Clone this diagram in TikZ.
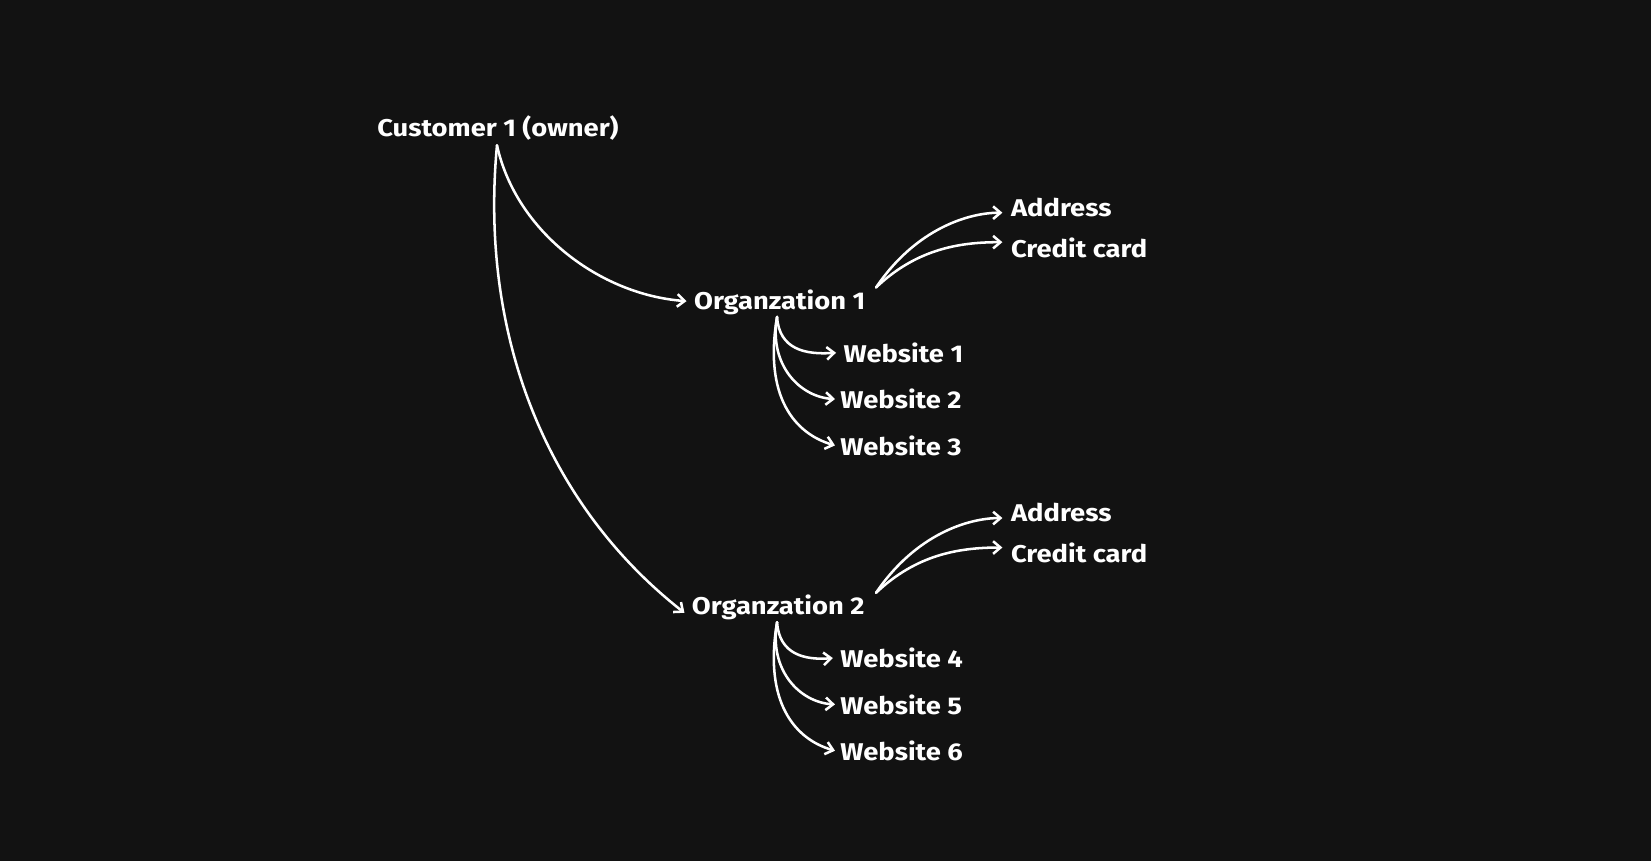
\documentclass[tikz,border=0pt]{standalone}
\usepackage{fontspec}
\setmainfont{Fira Sans}[FakeStretch=1.13]
\usetikzlibrary{arrows.meta}
\begin{document}
\begin{tikzpicture}[x=1pt,y=-1pt,
  lbl/.style={text=white,font=\fontsize{23}{26}\selectfont\bfseries,inner sep=1pt},
  con/.style={draw=white,line width=2.4pt,line cap=round,-{Straight Barb[length=7pt,width=12pt]}}]
\fill[fill={rgb,255:red,18;green,18;blue,18}] (0,0) rectangle (1568,818);
\useasboundingbox (0,0) rectangle (1568,818);
\node[lbl] (cust) at (473,122) {Customer 1 (owner)};
\node[lbl,anchor=west] (o1) at (658,287) {Organzation 1};
\node[lbl,anchor=west] (o2) at (656,577) {Organzation 2};
\node[lbl,anchor=west] (w1) at (800,335) {Website 1};
\node[lbl,anchor=west] (w2) at (797,379) {Website 2};
\node[lbl,anchor=west] (w3) at (797,423) {Website 3};
\node[lbl,anchor=west] (w4) at (797,625) {Website 4};
\node[lbl,anchor=west] (w5) at (797,669) {Website 5};
\node[lbl,anchor=west] (w6) at (797,713) {Website 6};
\node[lbl,anchor=west] (a1) at (959,197) {Address};
\node[lbl,anchor=west] (c1) at (959,235) {Credit card};
\node[lbl,anchor=west] (a2) at (959,487) {Address};
\node[lbl,anchor=west] (c2) at (959,525) {Credit card};
\coordinate (cs) at (472,138);
\draw[con] (cs) .. controls (490,220) and (570,280) .. ([xshift=-6pt,yshift=1pt]o1.west);
\draw[con] (cs) .. controls (455,320) and (520,480) .. ([xshift=-6pt,yshift=-5pt]o2.west);
\foreach \o/\y/\a/\c/\wa/\wb/\wc in {o1/287/a1/c1/w1/w2/w3, o2/577/a2/c2/w4/w5/w6}{
  \coordinate (b) at (738,\y+14);
  \coordinate (e) at (832,\y-14);
  \draw[con] (b) .. controls (740,\y+45) and (765,\y+50) .. ([xshift=-6pt]\wa.west);
  \draw[con] (b) .. controls (730,\y+60) and (760,\y+90) .. ([xshift=-4pt]\wb.west);
  \draw[con] (b) .. controls (725,\y+90) and (755,\y+125) .. ([xshift=-4pt]\wc.west);
  \draw[con] (e) .. controls (870,\y-70) and (920,\y-85) .. (952,\y-85);
  \draw[con] (e) .. controls (870,\y-50) and (910,\y-57) .. (952,\y-57);
}
\end{tikzpicture}
\end{document}
